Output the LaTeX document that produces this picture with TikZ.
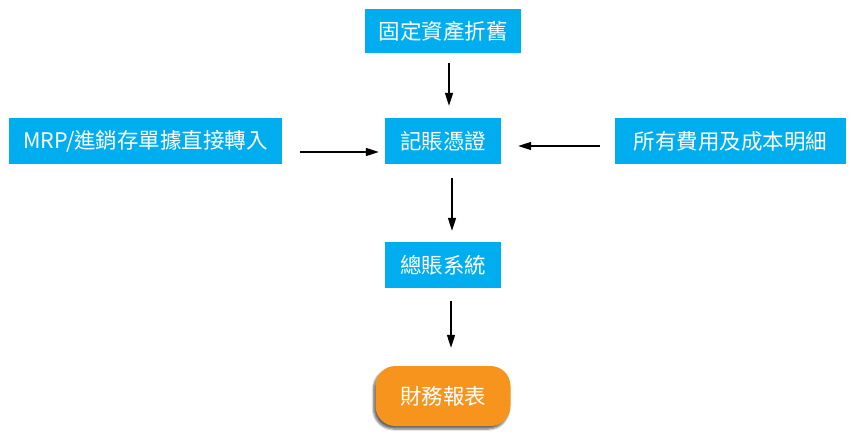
\documentclass[tikz,border=0pt]{standalone}
\usepackage{fontspec}
\setmainfont{Noto Sans CJK TC}
\usetikzlibrary{arrows.meta,shadows.blur}
\definecolor{boxblue}{RGB}{0,174,239}
\definecolor{boxorange}{RGB}{247,148,29}
\tikzset{
  bluebox/.style={fill=boxblue, text=white, inner sep=0pt, font=\fontsize{21.5}{24}\selectfont},
  orangebox/.style={fill=boxorange, text=white, inner sep=0pt, rounded corners=20pt,
    font=\fontsize{21.5}{24}\selectfont,
    blur shadow={shadow xshift=-2pt, shadow yshift=-3pt, shadow blur steps=6, shadow opacity=60}},
  flow/.style={-{Triangle[length=13pt,width=8pt]}, line width=1.5pt, black}
}
\begin{document}
\begin{tikzpicture}[x=1pt,y=-1pt]
\useasboundingbox (0,0) rectangle (854,441);
\node[bluebox, minimum width=156pt, minimum height=44pt] (top) at (443,31) {固定資產折舊};
\node[bluebox, minimum width=273pt, minimum height=45pt] (mrp) at (145.5,141) {MRP/進銷存單據直接轉入};
\node[bluebox, minimum width=116pt, minimum height=46pt] (jz) at (443,141) {記賬憑證};
\node[bluebox, minimum width=231pt, minimum height=46pt] (cost) at (730.5,141) {所有費用及成本明細};
\node[bluebox, minimum width=116pt, minimum height=46pt] (zz) at (443,265) {總賬系統};
\node[orangebox, minimum width=135pt, minimum height=60pt] (fin) at (443,396) {財務報表};
\draw[flow, shorten <=10pt, shorten >=12pt] ([xshift=6pt]top.south) -- ([xshift=6pt]jz.north);
\draw[flow, shorten <=14pt, shorten >=11pt] ([xshift=9pt]jz.south) -- ([xshift=9pt]zz.north);
\draw[flow, shorten <=13pt, shorten >=18pt] ([xshift=8pt]zz.south) -- ([xshift=8pt]fin.north);
\draw[flow, shorten <=18pt, shorten >=6pt] ([yshift=-11pt]mrp.east) -- ([yshift=-11pt]jz.west);
\draw[flow, shorten <=15pt, shorten >=17pt] ([yshift=-5pt]cost.west) -- ([yshift=-5pt]jz.east);
\end{tikzpicture}
\end{document}
